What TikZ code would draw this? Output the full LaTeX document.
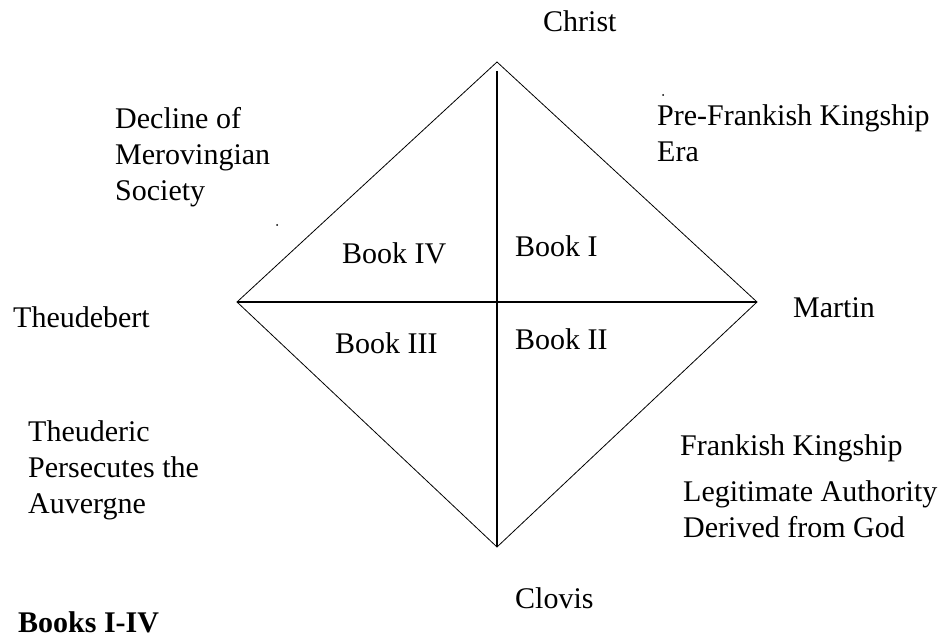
\documentclass[tikz,border=0pt]{standalone}
\usepackage{fontspec}
\setmainfont{Liberation Serif}
\begin{document}
\begin{tikzpicture}[x=1pt,y=1pt,yscale=-1,xscale=1,
  lbl/.style={anchor=base west,inner sep=0pt,font=\fontsize{30}{36}\selectfont,align=left},
  side/.style={line width=0.8pt},
  axis/.style={line width=1.3pt}]
\useasboundingbox (0,0) rectangle (938,639);

%Diamond corners
\coordinate (top) at (497,62);
\coordinate (topin) at (497,71);
\coordinate (right) at (757,302);
\coordinate (bottom) at (497,547);
\coordinate (left) at (237,302);

%Shape: Diamond
\draw [side] (top) -- (right) -- (bottom) -- (left) -- cycle;
%Straight Lines
\draw [axis] (topin) -- (bottom);
%Straight Lines
\draw [axis] (left) -- (right);

%stray dots
\fill (277,225) circle (1);
\fill (663,95) circle (1);

% Text Node (multi-line nodes sit on their last baseline)
\node [lbl] (christ) at (543,32) {Christ};
% Text Node
\node [lbl] (decline) at (115,201) {Decline of\\Merovingian\\Society};
% Text Node
\node [lbl] (prefrank) at (657,162) {Pre-Frankish Kingship\\Era};
% Text Node
\node [lbl] (book4) at (342,264) {Book IV};
% Text Node
\node [lbl] (book1) at (515,257) {Book I};
% Text Node
\node [lbl] (theudebert) at (13,327) {Theudebert};
% Text Node
\node [lbl] (martin) at (793,318) {Martin};
% Text Node
\node [lbl] (book3) at (335,353) {Book III};
% Text Node
\node [lbl] (book2) at (515,349) {Book II};
% Text Node
\node [lbl] (theuderic) at (28,513) {Theuderic\\Persecutes the\\Auvergne};
% Text Node
\node [lbl] (frankish) at (680,455) {Frankish Kingship};
% Text Node
\node [lbl] (legit) at (683,537) {Legitimate Authority\\Derived from God};
% Text Node
\node [lbl] (clovis) at (515,608) {Clovis};
% Text Node
\node [lbl,font=\fontsize{30}{36}\selectfont\bfseries] (books) at (18,632) {Books I-IV};

\end{tikzpicture}
\end{document}
